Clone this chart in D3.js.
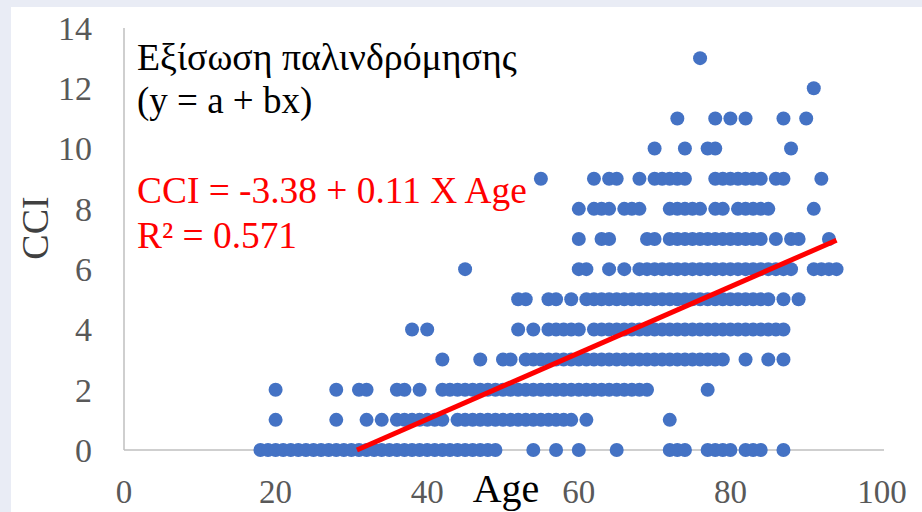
<!DOCTYPE html>
<html>
<head>
<meta charset="utf-8">
<script src="https://cdn.jsdelivr.net/npm/d3@7"></script>
<style>
  html, body { margin: 0; padding: 0; background: #e9ecf5; }
  svg { display: block; }
</style>
</head>
<body>
<svg id="chart" width="922" height="512"></svg>
<script>
// ---- data ----
const xTicks = [0, 20, 40, 60, 80, 100];
const yTicks = [0, 2, 4, 6, 8, 10, 12, 14];
const xTitle = "Age";
const yTitle = "CCI";
const titleLines = ["Εξίσωση παλινδρόμησης", "(y = a + bx)"];
const eqLines = ["CCI = -3.38 + 0.11 X Age", "R² = 0.571"];
const intercept = -3.38;
const slope = 0.11;
const fitRange = [30.73, 94];

const cci0  = [18,19,20,21,22,23,24,25,26,27,28,29,30,31,32,33,34,35,36,37,38,39,40,41,42,43,44,45,46,47,48,49,54,57,60,65,72,73,74,77,78,79,80,82,83,84,87];
const cci1  = [20,28,32,34,36,37,38,39,40,41,42,44,45,46,47,48,49,50,51,52,53,54,55,56,57,58,59,61,72];
const cci2  = [20,28,31,32,36,37,39,42,43,44,45,46,47,48,49,50,51,52,53,54,55,56,57,58,59,60,61,62,63,64,65,66,67,68,69,77];
const cci3  = [42,47,50,51,53,54,55,56,57,58,59,60,61,62,63,64,65,66,67,68,69,70,71,72,73,74,75,76,77,78,79,82,85,87];
const cci4  = [38,40,52,54,56,57,58,59,60,62,63,64,65,66,67,68,69,70,71,72,73,74,75,76,77,78,79,80,81,82,83,84,85,86,87];
const cci5  = [52,53,56,57,59,61,62,63,64,65,66,67,68,69,70,71,72,73,74,75,76,77,78,79,80,81,82,83,84,85,87,89];
const cci6  = [45,60,61,64,66,68,69,70,71,72,73,74,75,76,77,78,79,80,81,82,83,84,85,86,87,88,91,92,93,94];
const cci7  = [60,63,64,69,70,72,73,74,75,76,77,78,79,80,81,82,83,84,86,88,89,93];
const cci8  = [60,62,63,64,66,67,68,72,73,74,75,76,78,79,81,82,83,84,85,91];
const cci9  = [55,62,64,65,68,70,71,72,73,74,78,79,80,81,82,83,84,86,87,92];
const cci10 = [70,74,77,78,88];
const cci11 = [73,78,80,82,87,90];
const cci12 = [91];
const cci13 = [76];
const agesByCci = [cci0,cci1,cci2,cci3,cci4,cci5,cci6,cci7,cci8,cci9,cci10,cci11,cci12,cci13];

// ---- drawing ----
const FONT = "'Liberation Serif', 'Times New Roman', serif";
const svg = d3.select("#chart");
svg.append("rect").attr("x", 11).attr("y", 7).attr("width", 911).attr("height", 505).attr("fill", "#ffffff");

const x = d3.scaleLinear().domain([0, 100]).range([124, 882]);
const y = d3.scaleLinear().domain([0, 14]).range([450, 28]);

const points = [];
agesByCci.forEach((ages, c) => ages.forEach(a => points.push({age: a, cci: c})));

// axes lines
svg.append("line").attr("x1", x(0)).attr("x2", x(0)).attr("y1", y(14)).attr("y2", y(0))
  .attr("stroke", "#bfbfbf").attr("stroke-width", 1.5);
svg.append("line").attr("x1", x(0)).attr("x2", x(100) + 2).attr("y1", y(0)).attr("y2", y(0))
  .attr("stroke", "#bfbfbf").attr("stroke-width", 1.5);

// tick labels
svg.append("g").selectAll("text").data(yTicks).join("text")
  .attr("x", 92).attr("y", d => y(d)).attr("dy", "0.35em")
  .attr("text-anchor", "end")
  .attr("font-family", FONT)
  .attr("font-size", 34).attr("fill", "#595959")
  .text(d => d);
svg.append("g").selectAll("text").data(xTicks).join("text")
  .attr("x", d => x(d)).attr("y", 503)
  .attr("text-anchor", "middle")
  .attr("font-family", FONT)
  .attr("font-size", 33).attr("fill", "#595959")
  .text(d => d);

// points
svg.append("g").selectAll("circle").data(points).join("circle")
  .attr("cx", d => x(d.age)).attr("cy", d => y(d.cci)).attr("r", 7)
  .attr("fill", "#4472c4");

// regression line
svg.append("line")
  .attr("x1", x(fitRange[0])).attr("y1", y(intercept + slope * fitRange[0]))
  .attr("x2", x(fitRange[1])).attr("y2", y(intercept + slope * fitRange[1]))
  .attr("stroke", "#ff0000").attr("stroke-width", 5).attr("stroke-linecap", "butt");

// axis titles
svg.append("text").attr("x", 506).attr("y", 502).attr("text-anchor", "middle")
  .attr("font-family", FONT)
  .attr("font-size", 40).attr("fill", "#000000").text(xTitle);
svg.append("text").attr("transform", "translate(48,228) rotate(-90)").attr("text-anchor", "middle")
  .attr("font-family", FONT)
  .attr("font-size", 38).attr("fill", "#404040").text(yTitle);

// annotations
svg.append("g").selectAll("text").data(titleLines).join("text")
  .attr("x", 137).attr("y", (d, i) => 70 + i * 43)
  .attr("font-family", FONT)
  .attr("font-size", (d, i) => i === 0 ? 37.8 : 37).attr("fill", "#000000").text(d => d);
svg.append("g").selectAll("text").data(eqLines).join("text")
  .attr("x", 137).attr("y", (d, i) => 203 + i * 45)
  .attr("font-family", FONT)
  .attr("font-size", 37.4).attr("fill", "#ff0000").text(d => d);
</script>
</body>
</html>
